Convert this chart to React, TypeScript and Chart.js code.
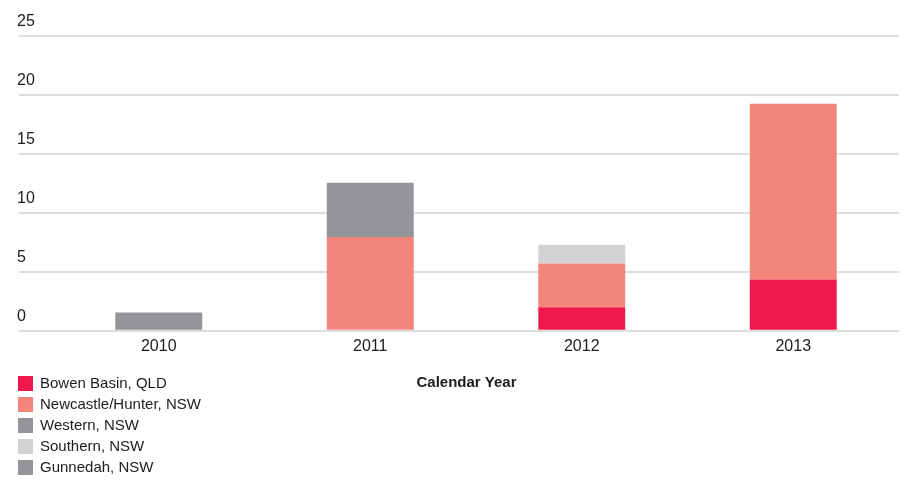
import React, { useEffect, useRef } from "react";
import { Chart, registerables } from "chart.js";

Chart.register(...registerables);

const years = ["2010", "2011", "2012", "2013"];
const seriesNames = [
  "Bowen Basin, QLD",
  "Newcastle/Hunter, NSW",
  "Western, NSW",
  "Southern, NSW",
  "Gunnedah, NSW",
];
const bowenBasin = [0, 0, 2.0, 4.35];
const newcastleHunter = [0, 7.95, 3.7, 14.9];
const western = [1.55, 4.6, 0, 0];
const southern = [0, 0, 1.6, 0];
const gunnedah = [0, 0, 0, 0];
const seriesColors = ["#ef184c", "#f4857d", "#939598", "#d1d2d4", "#939598"];
const yTicks = [0, 5, 10, 15, 20, 25];
const xTitle = "Calendar Year";

const FONT = '"Liberation Sans", Arial, sans-serif';
const TEXT = "#1c1c1c";

const sideLegendPlugin = {
  id: "sideLegend",
  afterDraw(chart: any) {
    const ctx = chart.ctx;
    ctx.save();
    chart.data.datasets.forEach((ds: any, i: number) => {
      const top = 376 + i * 21;
      ctx.fillStyle = ds.backgroundColor;
      ctx.fillRect(18, top, 15, 15);
      ctx.fillStyle = TEXT;
      ctx.font = `15px ${FONT}`;
      ctx.textAlign = "left";
      ctx.textBaseline = "middle";
      ctx.fillText(ds.label, 40, top + 8);
    });
    ctx.font = `bold 15px ${FONT}`;
    ctx.textAlign = "center";
    ctx.textBaseline = "middle";
    ctx.fillStyle = TEXT;
    ctx.fillText(xTitle, 466.5, 383);
    ctx.restore();
  },
};

export default function App() {
  const ref = useRef<HTMLCanvasElement>(null);
  useEffect(() => {
    if (!ref.current) return;
    const values = [bowenBasin, newcastleHunter, western, southern, gunnedah];
    const chart = new Chart(ref.current, {
      type: "bar",
      data: {
        labels: years,
        datasets: seriesNames.map((name, i) => ({
          label: name,
          data: values[i],
          backgroundColor: seriesColors[i],
          borderWidth: 0,
          categoryPercentage: 1,
          barPercentage: 0.411,
        })),
      },
      options: {
        animation: false,
        responsive: false,
        maintainAspectRatio: false,
        layout: { padding: { left: 17, right: 8, top: 36, bottom: 121 } },
        plugins: {
          legend: { display: false },
          tooltip: { enabled: false },
        },
        font: { family: FONT },
        scales: {
          x: {
            stacked: true,
            grid: { display: false, drawTicks: false },
            border: { display: false },
            ticks: {
              color: TEXT,
              font: { family: FONT, size: 16 },
              padding: 6,
            },
          },
          y: {
            stacked: true,
            min: 0,
            max: 25,
            afterBuildTicks: (scale: any) => {
              scale.ticks = yTicks.map((v) => ({ value: v }));
            },
            afterFit: (scale: any) => {
              scale.width = 36;
            },
            grid: {
              color: "#dedede",
              lineWidth: 2,
              tickLength: 34,
              drawTicks: true,
            },
            border: { display: false },
            ticks: {
              color: TEXT,
              font: { family: FONT, size: 16 },
              crossAlign: "far",
              labelOffset: -14,
              padding: 0,
            },
          },
        },
      },
      plugins: [sideLegendPlugin],
    } as any);
    return () => chart.destroy();
  }, []);
  return (
    <div style={{ position: "fixed", left: 0, top: 0, width: 907, height: 483, background: "#fff" }}>
      <canvas ref={ref} width={907} height={483} style={{ display: "block" }} />
    </div>
  );
}
